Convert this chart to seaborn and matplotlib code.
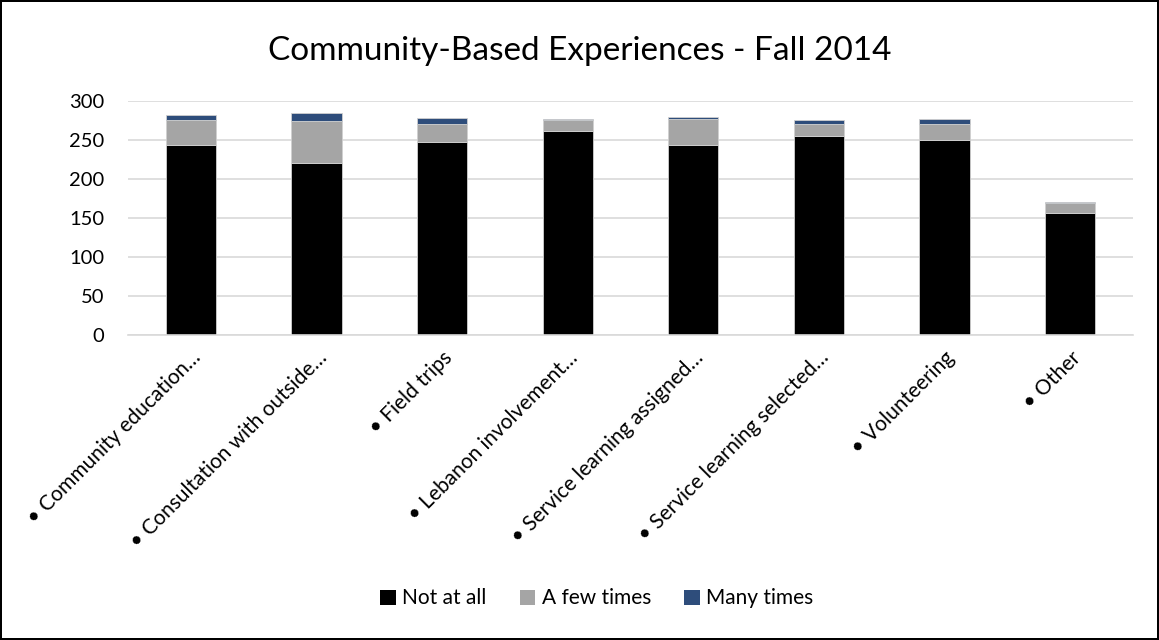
import matplotlib
matplotlib.use("Agg")
import matplotlib.pyplot as plt
import seaborn as sns
import pandas as pd
import numpy as np
from matplotlib.patches import Patch

categories = ["Community education…", "Consultation with outside…", "Field trips",
              "Lebanon involvement…", "Service learning assigned…",
              "Service learning selected…", "Volunteering", "Other"]
not_at_all = [243, 220, 247, 261, 244, 255, 250, 157]
few_times = [33, 54, 24, 14, 33, 16, 20, 12]
many_times = [6, 10, 7, 2, 3, 4, 7, 2]
series_names = ["Not at all", "A few times", "Many times"]
colors = ["#000000", "#a5a5a5", "#2e4d7b"]
yticks = [0, 50, 100, 150, 200, 250, 300]

sns.set_theme(style="white")
plt.rcParams['font.family'] = ['Lato', 'DejaVu Sans']
plt.rcParams['text.color'] = 'black'
plt.rcParams['xtick.color'] = 'black'
plt.rcParams['ytick.color'] = 'black'

fig = plt.figure(figsize=(11.59, 6.4), dpi=100, edgecolor="black", linewidth=1.5)
ax = fig.add_axes([0.1104, 0.4766, 0.8672, 0.3656])

df = pd.DataFrame({"cat": categories, "a": not_at_all, "b": few_times, "c": many_times})
bottoms = np.zeros(len(categories))
for col, name, colr in zip(["a", "b", "c"], series_names, colors):
    sns.barplot(data=df, x="cat", y=col, color=colr, width=0.4, bottom=bottoms,
                ax=ax, edgecolor="#d0d0d0", linewidth=0.6, saturation=1)
    bottoms = bottoms + df[col].values

ax.set_ylim(0, 300)
ax.set_yticks(yticks)
ax.set_yticklabels([str(v) for v in yticks], fontsize=14.5, color="black")
ax.yaxis.grid(True, color="#d9d9d9", linewidth=1.2)
ax.set_axisbelow(True)
for s in ["top", "right", "left"]:
    ax.spines[s].set_visible(False)
ax.spines["bottom"].set_color("#d9d9d9")
ax.spines["bottom"].set_linewidth(1.2)
ax.tick_params(axis="y", length=0, pad=17)
ax.tick_params(axis="x", length=0, pad=9)
ax.set_xlabel("")
ax.set_ylabel("")
ax.set_xticks(range(len(categories)))
ax.set_xticklabels(["• " + c for c in categories], rotation=45, ha="right",
                   rotation_mode="anchor", fontsize=15, color="black")

fig.suptitle("Community-Based Experiences - Fall 2014", y=0.943, fontsize=24, color="black")

handles = [Patch(facecolor=c, edgecolor="none") for c in colors]
fig.legend(handles, series_names, loc="center", bbox_to_anchor=(0.515, 0.065), ncol=3,
           frameon=False, fontsize=15, handlelength=0.75, handleheight=0.75,
           handletextpad=0.3, columnspacing=1.6)

fig.savefig("out.png", dpi=100, edgecolor=fig.get_edgecolor())
